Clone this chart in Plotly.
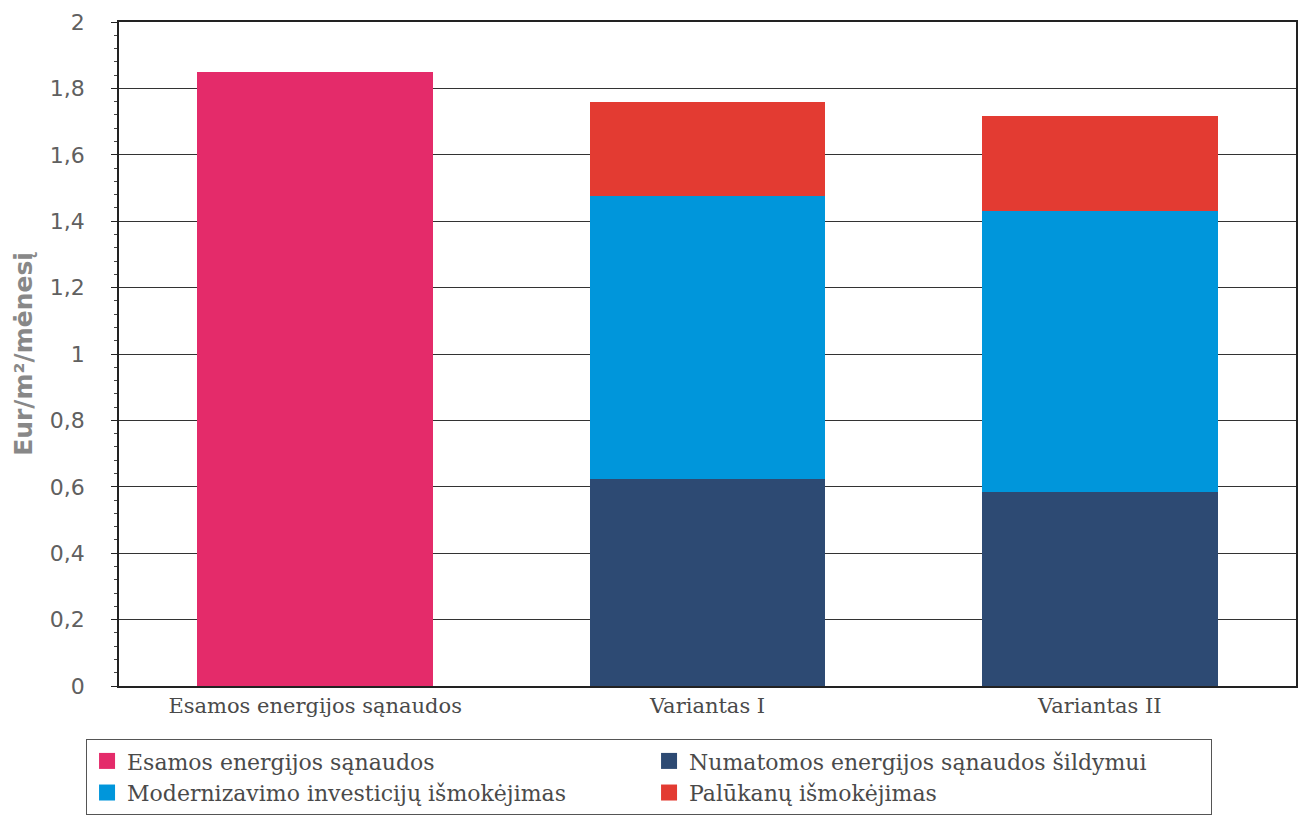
import plotly.graph_objects as go

categories = ["Esamos energijos sąnaudos", "Variantas I", "Variantas II"]
esamos = [1.85, None, None]
numatomos = [None, 0.625, 0.583]
modernizavimo = [None, 0.85, 0.847]
palukanu = [None, 0.285, 0.287]

series_names = [
    "Esamos energijos sąnaudos",
    "Numatomos energijos sąnaudos šildymui",
    "Modernizavimo investicijų išmokėjimas",
    "Palūkanų išmokėjimas",
]
colors = ["#E42B6A", "#2D4A73", "#0096DB", "#E33B32"]
y_ticks = [0, 0.2, 0.4, 0.6, 0.8, 1, 1.2, 1.4, 1.6, 1.8, 2]
y_tick_labels = ["0", "0,2", "0,4", "0,6", "0,8", "1", "1,2", "1,4", "1,6", "1,8", "2"]

fig = go.Figure()
stack = [
    (series_names[0], esamos, colors[0]),
    (series_names[1], numatomos, colors[1]),
    (series_names[2], modernizavimo, colors[2]),
    (series_names[3], palukanu, colors[3]),
]
for i, (name, vals, col) in enumerate(stack):
    fig.add_trace(go.Bar(
        x=categories, y=vals, name=name, marker=dict(color=col, line=dict(width=0)),
        showlegend=False,
    ))
    fig.add_trace(go.Scatter(
        x=[None], y=[None], mode="markers", name=name,
        marker=dict(symbol="square", size=16, color=col),
        legendrank=i + 1,
    ))

serif = "DejaVu Serif, Liberation Serif, serif"
sans = "DejaVu Sans, Liberation Sans, sans-serif"
fig.update_layout(
    barmode="stack",
    bargap=0.4,
    width=1305, height=829,
    margin=dict(l=119, r=7, t=22, b=143),
    paper_bgcolor="white",
    plot_bgcolor="white",
    showlegend=True,
    legend=dict(
        orientation="h",
        x=-0.028, xanchor="left",
        y=-0.08, yanchor="top",
        entrywidth=517, entrywidthmode="pixels",
        font=dict(family=serif, size=22, color="#4a4a4a"),
        bordercolor="#555555", borderwidth=1,
        traceorder="normal",
        itemwidth=30,
    ),
    xaxis=dict(
        tickfont=dict(family=serif, size=21, color="#4a4a4a"),
        showline=True, linecolor="#222222", linewidth=1.5,
        mirror=True, ticks="",
    ),
    yaxis=dict(
        range=[0, 2],
        tickvals=y_ticks, ticktext=y_tick_labels,
        tickfont=dict(family=sans, size=22, color="#606060"),
        ticklabelstandoff=22,
        showgrid=True, gridcolor="#333333", gridwidth=1.2,
        showline=True, linecolor="#222222", linewidth=1.5, mirror=True,
        ticks="outside", ticklen=6, tickcolor="#222222",
        minor=dict(dtick=0.04, ticks="outside", ticklen=3, tickcolor="#444444", showgrid=False),
        title=dict(text="<b>Eur/m²/mėnesį</b>",
                   font=dict(family=sans, size=25, color="#888888"),
                   standoff=10),
        zeroline=False,
    ),
)

fig.write_html("out.html")
